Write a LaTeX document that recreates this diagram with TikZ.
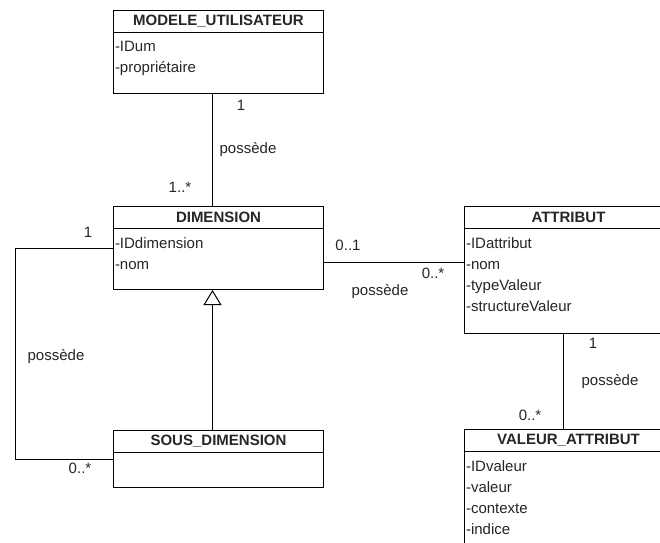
\documentclass[tikz,border=0pt]{standalone}
\usepackage{fontspec}
\setmainfont{Liberation Sans}
\usetikzlibrary{arrows.meta,positioning}

\begin{document}
\begin{tikzpicture}[x=1pt,y=-1pt,line width=1pt,
    every node/.style={font=\fontsize{15}{21}\selectfont,text=black!85},
    cls/.style={draw,minimum width=208pt,inner sep=0pt,anchor=north west},
    hdr/.style={draw,minimum width=208pt,minimum height=22pt,inner sep=0pt,anchor=north,font=\fontsize{15}{21}\selectfont\bfseries},
    attrs/.style={anchor=north west,align=left,inner xsep=1.5pt,inner ysep=8pt},
    lbl/.style={inner sep=1pt}]
          \clip (0,0) rectangle (660,542);
          \fill[white] (0,0) rectangle (660,542);

          % Classes
          \node[cls,minimum width=210pt,minimum height=83pt] (mu) at (113,10) {};
          \node[hdr,minimum width=210pt] (muh) at (mu.north) {MODELE\_UTILISATEUR};
          \node[attrs] (mua) at (muh.south west) {-IDum\\-propriétaire};

          \node[cls,minimum width=210pt,minimum height=83pt] (dim) at (113,206) {};
          \node[hdr,minimum width=210pt] (dimh) at (dim.north) {DIMENSION};
          \node[attrs] (dima) at (dimh.south west) {-IDdimension\\-nom};

          \node[cls,minimum width=210pt,minimum height=57pt] (sd) at (113,430) {};
          \node[hdr,minimum width=210pt] (sdh) at (sd.north) {SOUS\_DIMENSION};

          \node[cls,minimum height=127pt] (att) at (464,206) {};
          \node[hdr] (atth) at (att.north) {ATTRIBUT};
          \node[attrs] (atta) at (atth.south west) {-IDattribut\\-nom\\-typeValeur\\-structureValeur};

          \node[cls,minimum height=130pt] (va) at (464,429) {};
          \node[hdr] (vah) at (va.north) {VALEUR\_ATTRIBUT};
          \node[attrs] (vaa) at (vah.south west) {-IDvaleur\\-valeur\\-contexte\\-indice};

          % Multiplicities and roles
          \node[lbl] (mu1) at (241,105) {1};
          \node[lbl] (mupos) at (248,150) {possède};
          \node[lbl] (dimn) at (180,187) {1..*};
          \node[lbl] (dim1) at (88,232) {1};
          \node[lbl] (sdpos) at (56,357) {possède};
          \node[lbl] (sdn) at (80,468) {0..*};
          \node[lbl] (dim01) at (348,245) {0..1};
          \node[lbl] (attn) at (433,273) {0..*};
          \node[lbl] (attpos) at (380,292) {possède};
          \node[lbl] (att1) at (593,343) {1};
          \node[lbl] (vapos) at (610,382) {possède};
          \node[lbl] (van) at (530,415) {0..*};

          % Associations
          \draw ([xshift=-6pt]mu.south) -- ([xshift=-6pt]dim.north);
          \draw ([yshift=-14.5pt]dim.east) coordinate (p) -- (p -| att.west);
          \draw (dim.west) -- ++(-98,0) |- (sd.west);
          \draw ([xshift=-5.5pt]att.south) -- ([xshift=-5.5pt]va.north);

          % Generalisation
          \draw[-{Triangle[open,length=15pt,width=18pt]}] ([xshift=-6pt]sd.north) -- ([xshift=-6pt]dim.south);

        \end{tikzpicture}
\end{document}
